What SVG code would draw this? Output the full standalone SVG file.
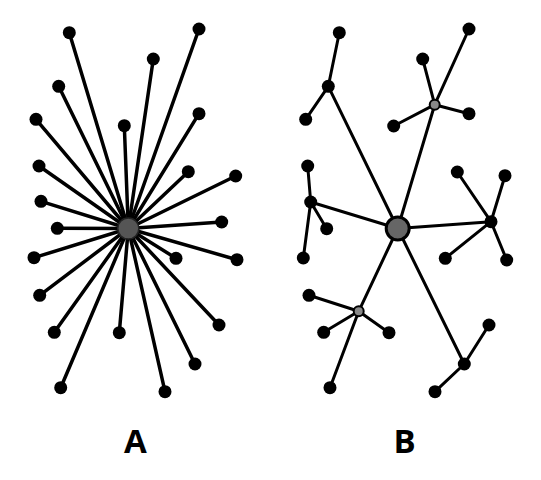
<svg xmlns="http://www.w3.org/2000/svg" width="541" height="480" viewBox="0 0 541 480">
<style>
.ea{stroke:#000;stroke-width:3.5;stroke-linecap:round}
.eb{stroke:#000;stroke-width:3;stroke-linecap:round}
.leaf{fill:#000}
.hub{fill:#000}
.gray{fill:#888;stroke:#000;stroke-width:2}
.ca{fill:#555;stroke:#222;stroke-width:1.5}
.cb{fill:#666;stroke:#000;stroke-width:3}
.lbl{font-family:"Open Sans","Liberation Sans",sans-serif;font-weight:bold;font-size:33px;fill:#000;text-anchor:middle}
</style>
<rect width="541" height="480" fill="#fff"/>
<g id="connectors">
<g id="edges-a" class="ea">
<line x1="128.3" y1="228.5" x2="69.3" y2="32.7"/>
<line x1="128.3" y1="228.5" x2="199" y2="29"/>
<line x1="128.3" y1="228.5" x2="153.3" y2="59"/>
<line x1="128.3" y1="228.5" x2="58.7" y2="86.3"/>
<line x1="128.3" y1="228.5" x2="124.3" y2="125.7"/>
<line x1="128.3" y1="228.5" x2="199" y2="113.7"/>
<line x1="128.3" y1="228.5" x2="36" y2="119.3"/>
<line x1="128.3" y1="228.5" x2="39" y2="166"/>
<line x1="128.3" y1="228.5" x2="188.3" y2="171.7"/>
<line x1="128.3" y1="228.5" x2="235.7" y2="176"/>
<line x1="128.3" y1="228.5" x2="41" y2="201.3"/>
<line x1="128.3" y1="228.5" x2="57.3" y2="228.3"/>
<line x1="128.3" y1="228.5" x2="221.7" y2="222"/>
<line x1="128.3" y1="228.5" x2="34" y2="257.7"/>
<line x1="128.3" y1="228.5" x2="176" y2="258.3"/>
<line x1="128.3" y1="228.5" x2="237" y2="259.7"/>
<line x1="128.3" y1="228.5" x2="39.7" y2="295.3"/>
<line x1="128.3" y1="228.5" x2="54.3" y2="332.3"/>
<line x1="128.3" y1="228.5" x2="119.3" y2="332.7"/>
<line x1="128.3" y1="228.5" x2="219" y2="325"/>
<line x1="128.3" y1="228.5" x2="195" y2="364"/>
<line x1="128.3" y1="228.5" x2="60.7" y2="387.7"/>
<line x1="128.3" y1="228.5" x2="165" y2="391.7"/>
</g>
<g id="edges-b" class="eb">
<line x1="397.7" y1="228.5" x2="328.3" y2="86.3"/>
<line x1="328.3" y1="86.3" x2="339.3" y2="32.7"/>
<line x1="328.3" y1="86.3" x2="305.7" y2="119.3"/>
<line x1="397.7" y1="228.5" x2="434.7" y2="104.7"/>
<line x1="434.7" y1="104.7" x2="469" y2="29"/>
<line x1="434.7" y1="104.7" x2="422.7" y2="59"/>
<line x1="434.7" y1="104.7" x2="393.7" y2="126"/>
<line x1="434.7" y1="104.7" x2="469" y2="113.7"/>
<line x1="397.7" y1="228.5" x2="310.7" y2="202"/>
<line x1="310.7" y1="202" x2="307.7" y2="166"/>
<line x1="310.7" y1="202" x2="326.7" y2="228.7"/>
<line x1="310.7" y1="202" x2="303.3" y2="258"/>
<line x1="397.7" y1="228.5" x2="491" y2="221.7"/>
<line x1="491" y1="221.7" x2="457.3" y2="172"/>
<line x1="491" y1="221.7" x2="505" y2="175.7"/>
<line x1="491" y1="221.7" x2="445.3" y2="258.3"/>
<line x1="491" y1="221.7" x2="506.7" y2="260"/>
<line x1="397.7" y1="228.5" x2="358.7" y2="311.3"/>
<line x1="358.7" y1="311.3" x2="309" y2="295.3"/>
<line x1="358.7" y1="311.3" x2="323.7" y2="332.3"/>
<line x1="358.7" y1="311.3" x2="389" y2="332.7"/>
<line x1="358.7" y1="311.3" x2="330" y2="387.7"/>
<line x1="397.7" y1="228.5" x2="464.3" y2="364"/>
<line x1="464.3" y1="364" x2="489" y2="325"/>
<line x1="464.3" y1="364" x2="435" y2="391.7"/>
</g>
</g>
<g id="nodes-a" class="leaf">
<circle id="a1" cx="69.3" cy="32.7" r="6.5"/>
<circle id="a2" cx="199" cy="29" r="6.5"/>
<circle id="a3" cx="153.3" cy="59" r="6.5"/>
<circle id="a4" cx="58.7" cy="86.3" r="6.5"/>
<circle id="a5" cx="124.3" cy="125.7" r="6.5"/>
<circle id="a6" cx="199" cy="113.7" r="6.5"/>
<circle id="a7" cx="36" cy="119.3" r="6.5"/>
<circle id="a8" cx="39" cy="166" r="6.5"/>
<circle id="a9" cx="188.3" cy="171.7" r="6.5"/>
<circle id="a10" cx="235.7" cy="176" r="6.5"/>
<circle id="a11" cx="41" cy="201.3" r="6.5"/>
<circle id="a12" cx="57.3" cy="228.3" r="6.5"/>
<circle id="a13" cx="221.7" cy="222" r="6.5"/>
<circle id="a14" cx="34" cy="257.7" r="6.5"/>
<circle id="a15" cx="176" cy="258.3" r="6.5"/>
<circle id="a16" cx="237" cy="259.7" r="6.5"/>
<circle id="a17" cx="39.7" cy="295.3" r="6.5"/>
<circle id="a18" cx="54.3" cy="332.3" r="6.5"/>
<circle id="a19" cx="119.3" cy="332.7" r="6.5"/>
<circle id="a20" cx="219" cy="325" r="6.5"/>
<circle id="a21" cx="195" cy="364" r="6.5"/>
<circle id="a22" cx="60.7" cy="387.7" r="6.5"/>
<circle id="a23" cx="165" cy="391.7" r="6.5"/>
</g>
<g id="center-a"><circle class="ca" cx="128.3" cy="228.5" r="10.5"/></g>
<g id="nodes-b" class="leaf">
<circle id="b1" cx="339.3" cy="32.7" r="6.5"/>
<circle id="b2" cx="305.7" cy="119.3" r="6.5"/>
<circle id="b3" cx="469" cy="29" r="6.5"/>
<circle id="b4" cx="422.7" cy="59" r="6.5"/>
<circle id="b5" cx="393.7" cy="126" r="6.5"/>
<circle id="b6" cx="469" cy="113.7" r="6.5"/>
<circle id="b7" cx="307.7" cy="166" r="6.5"/>
<circle id="b8" cx="326.7" cy="228.7" r="6.5"/>
<circle id="b9" cx="303.3" cy="258" r="6.5"/>
<circle id="b10" cx="457.3" cy="172" r="6.5"/>
<circle id="b11" cx="505" cy="175.7" r="6.5"/>
<circle id="b12" cx="445.3" cy="258.3" r="6.5"/>
<circle id="b13" cx="506.7" cy="260" r="6.5"/>
<circle id="b14" cx="309" cy="295.3" r="6.5"/>
<circle id="b15" cx="323.7" cy="332.3" r="6.5"/>
<circle id="b16" cx="389" cy="332.7" r="6.5"/>
<circle id="b17" cx="330" cy="387.7" r="6.5"/>
<circle id="b18" cx="489" cy="325" r="6.5"/>
<circle id="b19" cx="435" cy="391.7" r="6.5"/>
</g>
<g id="hubs-b" class="hub">
<circle id="h1" cx="328.3" cy="86.3" r="6.5"/>
<circle id="h2" cx="310.7" cy="202" r="6.5"/>
<circle id="h3" cx="491" cy="221.7" r="6.5"/>
<circle id="h4" cx="464.3" cy="364" r="6.5"/>
</g>
<g id="gray-b">
<circle id="g1" class="gray" cx="434.7" cy="104.7" r="5"/>
<circle id="g2" class="gray" cx="358.7" cy="311.3" r="5"/>
</g>
<g id="center-b"><circle class="cb" cx="397.7" cy="228.5" r="11.5"/></g>
<g id="labels">
<text class="lbl" x="135.5" y="453">A</text>
<text class="lbl" x="404.7" y="453">B</text>
</g>
</svg>
